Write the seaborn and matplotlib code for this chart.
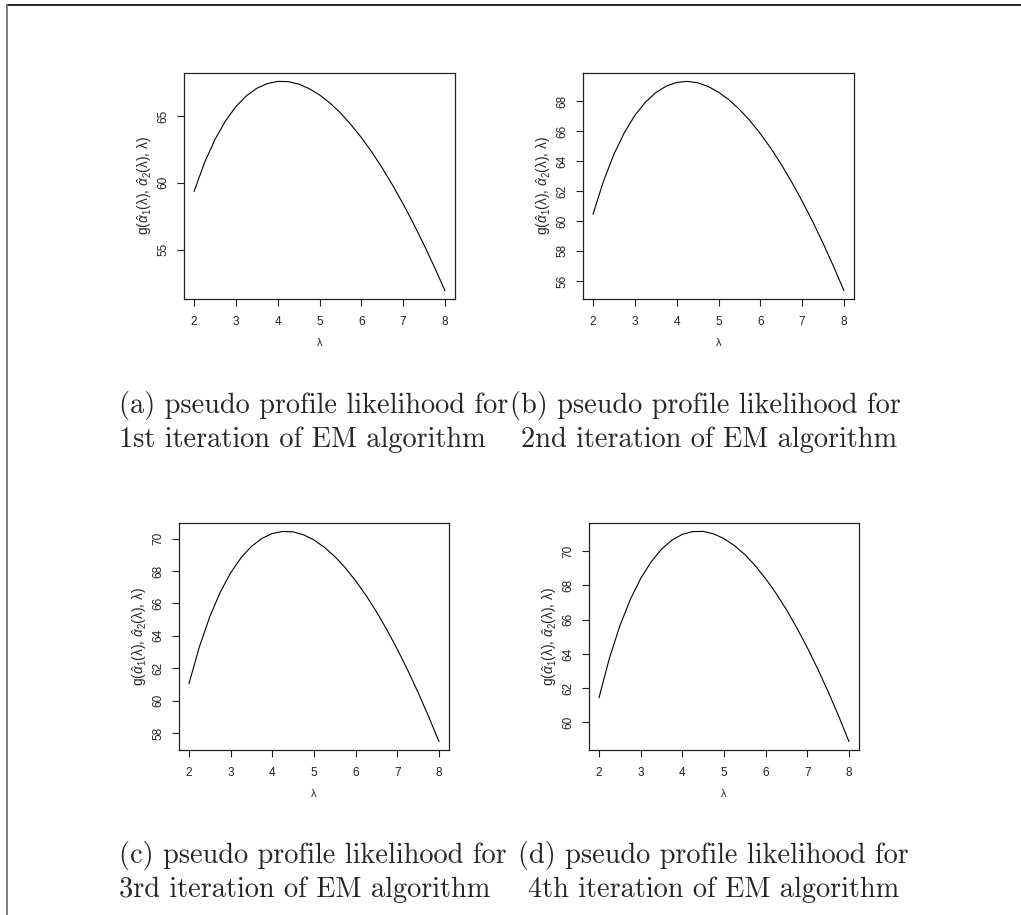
import matplotlib
matplotlib.use('Agg')
import numpy as np
import pandas as pd
import matplotlib.pyplot as plt
import seaborn as sns
from matplotlib.lines import Line2D

# lambda grid and pseudo profile likelihood
lam = [2.0, 2.25, 2.5, 2.75, 3.0, 3.25, 3.5, 3.75, 4.0, 4.25, 4.5, 4.75, 5.0,
       5.25, 5.5, 5.75, 6.0, 6.25, 6.5, 6.75, 7.0, 7.25, 7.5, 7.75, 8.0]

g_iter1 = [59.35, 61.51, 63.24, 64.62, 65.70, 66.50, 67.07, 67.42, 67.59, 67.57, 67.39, 67.05, 66.58,
           65.97, 65.23, 64.36, 63.39, 62.30, 61.11, 59.81, 58.42, 56.93, 55.35, 53.68, 51.93]
g_iter2 = [60.45, 62.66, 64.46, 65.90, 67.05, 67.92, 68.57, 69.00, 69.25, 69.32, 69.23, 68.98, 68.60,
           68.09, 67.45, 66.70, 65.83, 64.86, 63.78, 62.60, 61.33, 59.97, 58.51, 56.97, 55.35]
g_iter3 = [61.06, 63.33, 65.19, 66.69, 67.89, 68.82, 69.52, 70.01, 70.31, 70.44, 70.41, 70.23, 69.91,
           69.46, 68.89, 68.20, 67.39, 66.49, 65.48, 64.37, 63.17, 61.88, 60.50, 59.03, 57.48]
g_iter4 = [61.44, 63.75, 65.63, 67.17, 68.40, 69.37, 70.11, 70.64, 70.98, 71.14, 71.15, 71.01, 70.73,
           70.32, 69.80, 69.15, 68.39, 67.53, 66.57, 65.51, 64.36, 63.12, 61.79, 60.38, 58.88]

x_ticks = [2, 3, 4, 5, 6, 7, 8]
y_ticks1 = [55, 60, 65]
y_ticks2 = [56, 58, 60, 62, 64, 66, 68]
y_ticks3 = [58, 60, 62, 64, 66, 68, 70]
y_ticks4 = [60, 62, 64, 66, 68, 70]

cap_line1 = ['(a) pseudo profile likelihood for', '(b) pseudo profile likelihood for',
             '(c) pseudo profile likelihood for', '(d) pseudo profile likelihood for']
cap_line2 = ['1st iteration of EM algorithm', '2nd iteration of EM algorithm',
             '3rd iteration of EM algorithm', '4th iteration of EM algorithm']

ylab = r'g($\hat{\alpha}_1$(λ), $\hat{\alpha}_2$(λ), λ)'

sns.set_style('ticks')
plt.rcParams['font.family'] = ['Liberation Sans', 'DejaVu Sans']
plt.rcParams['mathtext.fontset'] = 'custom'
plt.rcParams['mathtext.rm'] = 'Liberation Sans'
plt.rcParams['mathtext.it'] = 'Liberation Sans:italic'

W, H = 1021, 915
fig = plt.figure(figsize=(W / 100, H / 100), dpi=100)

# axes boxes in pixels: left, top, right, bottom
boxes = [(184, 73, 455, 299), (583, 73, 854, 299),
         (179, 523, 449, 750), (589, 523, 859, 750)]
series = [g_iter1, g_iter2, g_iter3, g_iter4]
yticks = [y_ticks1, y_ticks2, y_ticks3, y_ticks4]

for (l, t, r, b), g, yt in zip(boxes, series, yticks):
    ax = fig.add_axes([l / W, 1 - b / H, (r - l) / W, (b - t) / H])
    df = pd.DataFrame({'lam': lam, 'g': g})
    sns.lineplot(data=df, x='lam', y='g', ax=ax, color='black', lw=0.8)
    lo, hi = min(g), max(g)
    ax.set_xlim(2 - 0.24, 8 + 0.24)
    ax.set_ylim(lo - 0.04 * (hi - lo), hi + 0.04 * (hi - lo))
    ax.set_xticks(x_ticks)
    ax.set_yticks(yt)
    for s in ax.spines.values():
        s.set_visible(True)
        s.set_linewidth(0.9)
        s.set_color('#222222')
    ax.tick_params(direction='out', length=4.8, width=0.8, color='#222222',
                   labelsize=8.5, labelcolor='#222222')
    ax.tick_params(axis='x', pad=12)
    ax.tick_params(axis='y', pad=10.3)
    plt.setp(ax.get_xticklabels(), va='center')
    plt.setp(ax.get_yticklabels(), rotation=90, va='center', ha='center')
    ax.set_xlabel('λ', fontsize=8, labelpad=0)
    ax.set_ylabel(ylab, fontsize=9.8, labelpad=0)
    ax.xaxis.set_label_coords(0.5, -(44) / (b - t))
    ax.yaxis.set_label_coords(-(39) / (r - l), 0.5)
    ax.xaxis.label.set_va('center')
    ax.yaxis.label.set_va('center')

# captions below each pair of plots
cap_pos1 = [(119, 413), (510, 413), (119, 863), (518, 863)]
cap_pos2 = [(119, 447), (521, 447), (119, 897), (528, 897)]
for txt, (x, y) in zip(cap_line1, cap_pos1):
    fig.text(x / W, 1 - y / H, txt, family='cmr10', fontsize=20.4, va='baseline', ha='left')
for txt, (x, y) in zip(cap_line2, cap_pos2):
    fig.text(x / W, 1 - y / H, txt, family='cmr10', fontsize=20.4, va='baseline', ha='left')

# page frame
fig.add_artist(Line2D([7 / W, 1], [1 - 5 / H, 1 - 5 / H], transform=fig.transFigure,
                      color='black', lw=1.2))
fig.add_artist(Line2D([7 / W, 7 / W], [0, 1 - 5 / H], transform=fig.transFigure,
                      color='#777777', lw=1.3))

fig.savefig('out.png', dpi=100)
